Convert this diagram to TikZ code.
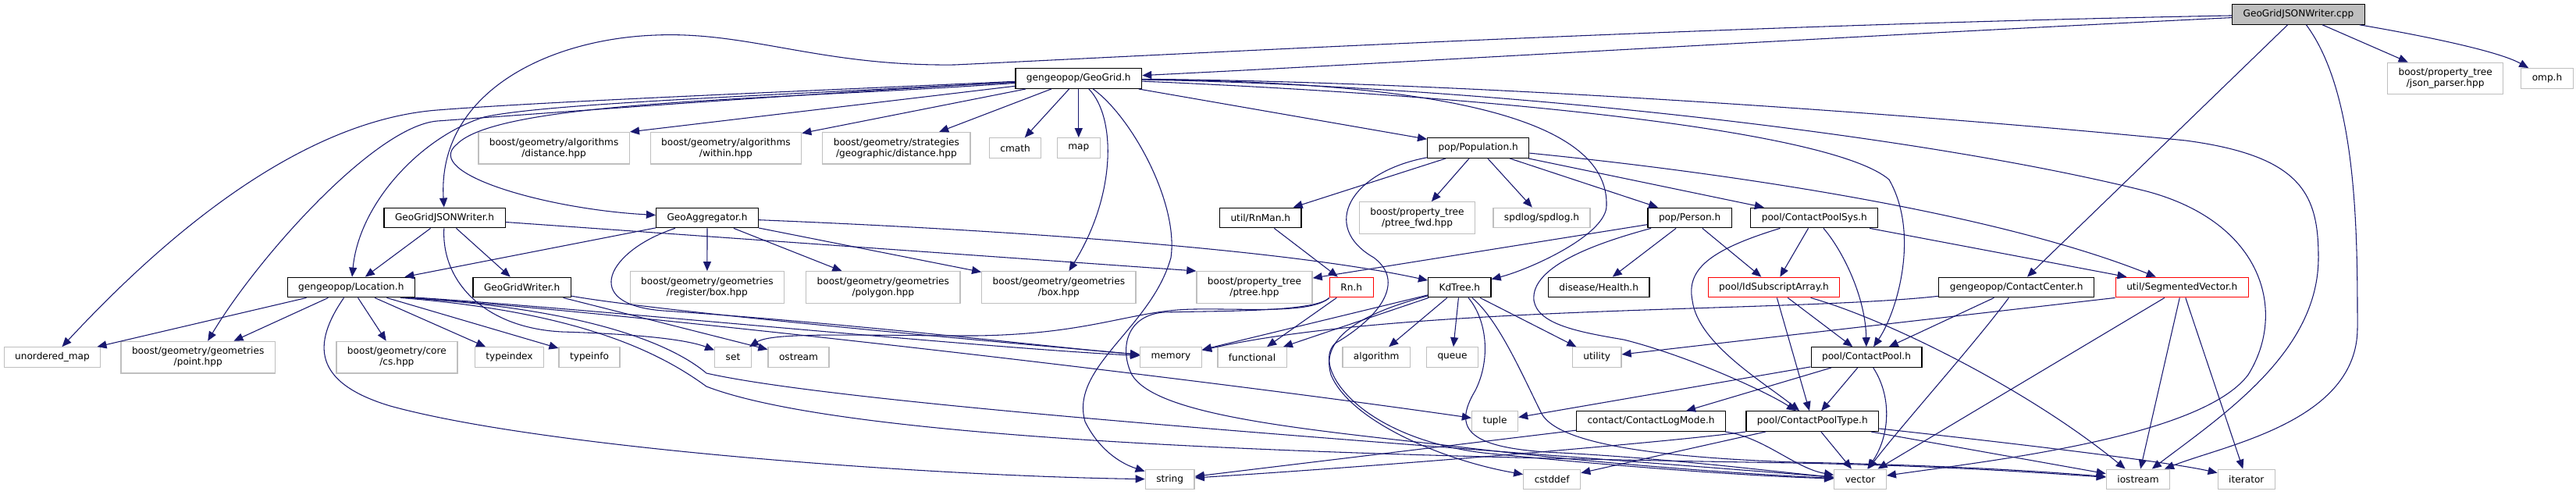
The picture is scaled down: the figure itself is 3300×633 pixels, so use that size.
\documentclass[tikz,border=0pt]{standalone}
\usepackage{fontspec}
\newfontfamily\dejavu{DejaVu Sans}
\usetikzlibrary{arrows.meta}
\definecolor{edgeblue}{HTML}{191970}
\definecolor{sysgray}{HTML}{BFBFBF}
\begin{document}
\begin{tikzpicture}[x=0.75pt,y=-0.75pt,>={Triangle[length=9pt,width=7.5pt]},
	hdr/.style={draw=black,line width=0.9pt,fill=white,font=\dejavu\fontsize{9.1}{10.5}\selectfont,inner xsep=10.5pt,inner ysep=0pt,minimum height=19.2pt,align=center},
	sys/.style={hdr,draw=sysgray,line width=1pt},
	sys2/.style={sys,minimum height=30.4pt},
	trunc/.style={hdr,draw=red},
	src/.style={hdr,fill=sysgray},
	incl/.style={->,draw=edgeblue,line width=0.8pt}]
	\fill[white] (0,0) rectangle (3300,633);
	\useasboundingbox (0,0) rectangle (3300,633);

	\node[src] (cpp) at (2944.4,18.4) {GeoGridJSONWriter.cpp};

	\node[hdr] (geogrid) at (1381.8,100.6) {gengeopop/GeoGrid.h};
	\node[sys2] (jsonparser) at (3132.6,100.5) {boost/property\_tree\\/json\_parser.hpp};
	\node[sys] (omp) at (3263,100.6) {omp.h};

	\node[sys2] (distance) at (709.6,189.8) {boost/geometry/algorithms\\/distance.hpp};
	\node[sys2] (within) at (929.9,189.8) {boost/geometry/algorithms\\/within.hpp};
	\node[sys2] (strategies) at (1148.4,189.8) {boost/geometry/strategies\\/geographic/distance.hpp};
	\node[sys] (cmath) at (1300.5,189.6) {cmath};
	\node[sys] (map) at (1381.8,189.6) {map};
	\node[hdr] (population) at (1893.7,189.6) {pop/Population.h};

	\node[hdr] (ggjwh) at (569.6,279) {GeoGridJSONWriter.h};
	\node[hdr] (geoagg) at (906,279) {GeoAggregator.h};
	\node[hdr] (rnman) at (1614.8,279) {util/RnMan.h};
	\node[sys2] (ptreefwd) at (1815.5,279) {boost/property\_tree\\/ptree\_fwd.hpp};
	\node[sys] (spdlog) at (1975,279) {spdlog/spdlog.h};
	\node[hdr] (person) at (2164.6,279) {pop/Person.h};
	\node[hdr] (cpsys) at (2324.3,279) {pool/ContactPoolSys.h};

	\node[hdr] (location) at (449.8,368) {gengeopop/Location.h};
	\node[hdr] (ggwriter) at (668.6,368) {GeoGridWriter.h};
	\node[sys2] (regbox) at (905.9,368) {boost/geometry/geometries\\/register/box.hpp};
	\node[sys2] (polygon) at (1131.3,368) {boost/geometry/geometries\\/polygon.hpp};
	\node[sys2] (box) at (1356.4,368) {boost/geometry/geometries\\/box.hpp};
	\node[sys2] (ptree) at (1607,368) {boost/property\_tree\\/ptree.hpp};
	\node[trunc] (rn) at (1731.3,368) {Rn.h};
	\node[hdr] (kdtree) at (1869.8,368) {KdTree.h};
	\node[hdr] (health) at (2048.2,368) {disease/Health.h};
	\node[trunc] (idsub) at (2272.5,368) {pool/IdSubscriptArray.h};
	\node[hdr] (contactcenter) at (2583.2,368) {gengeopop/ContactCenter.h};
	\node[trunc] (segvec) at (2795.3,368) {util/SegmentedVector.h};

	\node[sys] (umap) at (67,457.6) {unordered\_map};
	\node[sys2] (point) at (253.7,457.6) {boost/geometry/geometries\\/point.hpp};
	\node[sys2] (cs) at (508.4,457.6) {boost/geometry/core\\/cs.hpp};
	\node[sys] (typeindex) at (652.5,457.6) {typeindex};
	\node[sys] (typeinfo) at (755,457.6) {typeinfo};
	\node[sys] (set) at (939,457.6) {set};
	\node[sys] (ostream) at (1023,457.6) {ostream};
	\node[sys] (memory) at (1500,457.6) {memory};
	\node[sys] (functional) at (1604,457.6) {functional};
	\node[sys] (algorithm) at (1763.2,457.6) {algorithm};
	\node[sys] (queue) at (1860.5,457.6) {queue};
	\node[sys] (utility) at (2045.7,457.6) {utility};
	\node[hdr] (contactpool) at (2391,457.6) {pool/ContactPool.h};

	\node[sys] (tuple) at (1915,539.6) {tuple};
	\node[hdr] (logmode) at (2115,539.6) {contact/ContactLogMode.h};
	\node[hdr] (cptype) at (2321.8,539.6) {pool/ContactPoolType.h};

	\node[sys] (string) at (1498.7,614) {string};
	\node[sys] (cstddef) at (1988.2,614) {cstddef};
	\node[sys] (vector) at (2383,614) {vector};
	\node[sys] (iostream) at (2739,614) {iostream};
	\node[sys] (iterator) at (2877.8,614) {iterator};

	\draw[incl] (cpp) .. controls (2200,32) and (1500,70) .. (1223,83) .. controls (1050,85) and (960,40) .. (840,45) .. controls (700,50) and (560,120) .. (ggjwh);
	\draw[incl] (cpp) .. controls (2300,50) and (1800,80) .. (geogrid);
	\draw[incl] (cpp) -- (contactcenter);
	\draw[incl] (cpp) .. controls (3020,120) and (3020,300) .. (3020,420) .. controls (3020,540) and (2850,570) .. (iostream);
	\draw[incl] (cpp) -- (jsonparser);
	\draw[incl] (cpp) .. controls (3100,45) and (3200,65) .. (omp);

	\draw[incl] (geogrid) .. controls (1000,118) and (700,130) .. (560,141) .. controls (420,152) and (260,250) .. (umap);
	\draw[incl] (geogrid) .. controls (1000,122) and (700,145) .. (560,155) .. controls (480,162) and (330,330) .. (point);
	\draw[incl] (geogrid) .. controls (1000,122) and (700,132) .. (620,150) .. controls (540,175) and (460,260) .. (location);
	\draw[incl] (geogrid) .. controls (1000,128) and (640,128) .. (585,185) .. controls (540,222) and (700,268) .. (geoagg);
	\draw[incl] (geogrid) -- (distance.north east);
	\draw[incl] (geogrid) -- (within);
	\draw[incl] (geogrid) -- (strategies);
	\draw[incl] (geogrid) -- (cmath);
	\draw[incl] (geogrid) -- (map);
	\draw[incl] (geogrid) .. controls (1430,150) and (1430,250) .. (box);
	\draw[incl] (geogrid) .. controls (1450,150) and (1510,260) .. (1500,330) .. controls (1475,420) and (1370,470) .. (1390,540) .. controls (1410,580) and (1440,595) .. (string);
	\draw[incl] (geogrid) -- (population);
	\draw[incl] (geogrid) .. controls (1750,105) and (2060,130) .. (2058,262) .. controls (2060,300) and (1960,345) .. (kdtree);
	\draw[incl] (geogrid) .. controls (1900,105) and (2500,150) .. (2800,180) .. controls (2950,200) and (2970,250) .. (2970,330) .. controls (2970,450) and (2850,530) .. (iostream);
	\draw[incl] (geogrid) .. controls (1900,110) and (2450,170) .. (2750,245) .. controls (2900,285) and (2930,400) .. (2880,480) .. controls (2820,560) and (2550,590) .. (vector);
	\draw[incl] (geogrid) .. controls (1950,125) and (2350,170) .. (2420,230) .. controls (2460,300) and (2430,400) .. (contactpool);

	\draw[incl] (ggjwh) -- (location);
	\draw[incl] (ggjwh) -- (ggwriter);
	\draw[incl] (ggjwh) -- (ptree.north west);
	\draw[incl] (ggjwh) .. controls (565,360) and (620,420) .. (720,425) .. controls (820,428) and (880,435) .. (set);

	\draw[incl] (ggwriter) -- (ostream);
	\draw[incl] (ggwriter) .. controls (850,400) and (1300,440) .. (memory);

	\draw[incl] (geoagg) -- (location);
	\draw[incl] (geoagg) -- (regbox);
	\draw[incl] (geoagg) -- (polygon);
	\draw[incl] (geoagg) -- (box);
	\draw[incl] (geoagg) .. controls (1300,295) and (1650,320) .. (kdtree);
	\draw[incl] (geoagg) .. controls (780,320) and (740,390) .. (850,398) .. controls (1100,415) and (1350,445) .. (memory);

	\draw[incl] (location) -- (umap);
	\draw[incl] (location) -- (point);
	\draw[incl] (location) -- (cs);
	\draw[incl] (location) -- (typeindex);
	\draw[incl] (location) -- (typeinfo);
	\draw[incl] (location.-9) .. controls (750,395) and (1250,445) .. (memory);
	\draw[incl] (location.-10) .. controls (800,400) and (1500,480) .. (tuple);
	\draw[incl] (location.-11) .. controls (750,395) and (860,440) .. (905,478) .. controls (1100,522) and (1900,575) .. (vector);
	\draw[incl] (location.-12) .. controls (750,400) and (850,455) .. (905,495) .. controls (1100,570) and (1800,585) .. (2300,593) .. controls (2500,597) and (2620,606) .. (iostream);
	\draw[incl] (location) .. controls (400,440) and (400,490) .. (500,520) .. controls (700,575) and (1200,610) .. (string);

	\draw[incl] (population) -- (rnman);
	\draw[incl] (population) -- (ptreefwd);
	\draw[incl] (population) -- (spdlog);
	\draw[incl] (population) -- (person);
	\draw[incl] (population) -- (cpsys);
	\draw[incl] (population) .. controls (2200,220) and (2550,270) .. (segvec);
	\draw[incl] (population) .. controls (1730,220) and (1690,290) .. (1760,330) .. controls (1800,360) and (1770,405) .. (1710,440) .. controls (1680,470) and (1740,560) .. (1900,580) .. controls (2100,600) and (2250,610) .. (vector);

	\draw[incl] (rnman) -- (rn);

	\draw[incl] (rn) -- (functional);
	\draw[incl] (rn.south west) .. controls (1680,402) and (1600,395) .. (1530,396) .. controls (1450,397) and (1400,428) .. (1250,430) .. controls (1100,430) and (990,425) .. (set);
	\draw[incl] (rn.south west) .. controls (1685,400) and (1560,398) .. (1490,400) .. controls (1440,405) and (1435,450) .. (1450,480) .. controls (1480,530) and (1650,548) .. (1850,570) .. controls (2050,595) and (2250,608) .. (vector);

	\draw[incl] (kdtree) -- (memory);
	\draw[incl] (kdtree) -- (functional);
	\draw[incl] (kdtree) -- (algorithm);
	\draw[incl] (kdtree) -- (queue);
	\draw[incl] (kdtree) -- (utility);
	\draw[incl] (kdtree) .. controls (1750,400) and (1690,430) .. (1705,480) .. controls (1730,540) and (1850,590) .. (cstddef);
	\draw[incl] (kdtree) .. controls (1905,410) and (1910,460) .. (1890,500) .. controls (1860,550) and (1880,575) .. (2000,580) .. controls (2150,588) and (2280,605) .. (vector);
	\draw[incl] (kdtree) .. controls (1920,410) and (1950,480) .. (1975,530) .. controls (1995,565) and (2100,585) .. (2300,592) .. controls (2500,596) and (2620,604) .. (iostream);

	\draw[incl] (person) -- (ptree);
	\draw[incl] (person) -- (health);
	\draw[incl] (person) -- (idsub);
	\draw[incl] (person) .. controls (2050,310) and (1960,340) .. (1965,385) .. controls (1970,415) and (2020,425) .. (2080,435) .. controls (2160,455) and (2260,500) .. (cptype);

	\draw[incl] (cpsys) -- (idsub);
	\draw[incl] (cpsys) .. controls (2360,320) and (2390,380) .. (contactpool);
	\draw[incl] (cpsys) .. controls (2190,320) and (2160,345) .. (2168,385) .. controls (2175,440) and (2260,490) .. (cptype);
	\draw[incl] (cpsys) -- (segvec);

	\draw[incl] (idsub) -- (contactpool);
	\draw[incl] (idsub) -- (cptype);
	\draw[incl] (idsub) .. controls (2420,410) and (2600,500) .. (iostream);

	\draw[incl] (contactcenter) .. controls (2300,400) and (1800,390) .. (memory);
	\draw[incl] (contactcenter) -- (contactpool);
	\draw[incl] (contactcenter) .. controls (2530,440) and (2440,540) .. (vector);

	\draw[incl] (segvec.south west) -- (utility);
	\draw[incl] (segvec) -- (vector);
	\draw[incl] (segvec) -- (iostream);
	\draw[incl] (segvec) -- (iterator);

	\draw[incl] (contactpool) -- (cptype);
	\draw[incl] (contactpool) .. controls (2425,510) and (2420,560) .. (vector);
	\draw[incl] (contactpool) -- (tuple);
	\draw[incl] (contactpool) -- (logmode);

	\draw[incl] (cptype) -- (vector);
	\draw[incl] (cptype) -- (iostream);
	\draw[incl] (cptype) .. controls (2600,570) and (2780,592) .. (iterator);
	\draw[incl] (cptype.south west) .. controls (2150,565) and (1800,595) .. (string);
	\draw[incl] (cptype) -- (cstddef);

	\draw[incl] (logmode) -- (string);
	\draw[incl] (logmode) .. controls (2260,560) and (2300,600) .. (vector);
\end{tikzpicture}
\end{document}
